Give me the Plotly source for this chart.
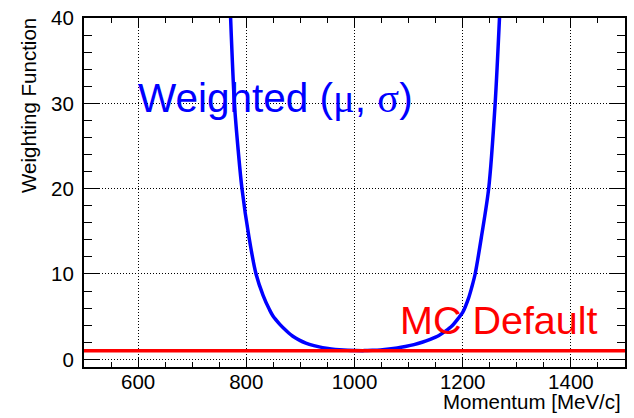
import plotly.graph_objects as go

# Weighted (mu, sigma) curve
momentum = [771, 778, 785, 792, 805, 818, 831, 843, 849, 862, 874, 886, 898, 910, 925,
            941, 957, 972, 987, 1002, 1018, 1033, 1048, 1064, 1079, 1094, 1110, 1125,
            1140, 1156, 1168, 1180, 1193, 1200, 1211, 1217, 1223, 1235, 1248, 1260, 1268]
weighted = [40, 30, 24.5, 20, 14.3, 10, 7.5, 5.8, 5.1, 4.1, 3.35, 2.7, 2.25, 1.9, 1.6,
            1.37, 1.22, 1.12, 1.06, 1.03, 1.02, 1.05, 1.1, 1.2, 1.33, 1.5, 1.72, 2.0,
            2.35, 2.8, 3.3, 3.9, 4.9, 5.5, 7.2, 8.5, 10, 14.5, 20, 30, 40]

# MC default weight
mc_momentum = [500, 1500]
mc_weight = [1, 1]

x_range = [500, 1500]
y_range = [-0.9, 40]

FONT = "Liberation Sans"

fig = go.Figure()
fig.add_trace(go.Scatter(x=momentum, y=weighted, mode="lines",
                         line=dict(color="#0000ff", width=3.5, shape="spline", smoothing=0.8),
                         showlegend=False))
fig.add_trace(go.Scatter(x=mc_momentum, y=mc_weight, mode="lines",
                         line=dict(color="#ff0000", width=3.5),
                         showlegend=False))

axis_common = dict(
    showline=True, linecolor="black", linewidth=2, mirror="allticks",
    ticks="inside", tickcolor="black", tickwidth=1,
    showgrid=True, gridcolor="black", gridwidth=1, griddash="1px,2px",
    zeroline=False,
    tickfont=dict(family=FONT, size=20.5, color="black"),
)

fig.update_xaxes(range=x_range, tick0=0, dtick=200, ticklen=10,
                 minor=dict(dtick=50, ticklen=5, ticks="inside", tickcolor="black", showgrid=False),
                 ticklabelstandoff=-5, **axis_common)
fig.update_yaxes(range=y_range, tick0=0, dtick=10, ticklen=16,
                 minor=dict(dtick=2, ticklen=8, ticks="inside", tickcolor="black", showgrid=False),
                 ticklabelstandoff=4, **axis_common)

fig.update_layout(
    width=634, height=418,
    margin=dict(l=83.6, r=6.5, t=16.3, b=51.3),
    paper_bgcolor="white", plot_bgcolor="white",
    font=dict(family=FONT, color="black"),
    annotations=[
        dict(text='Weighted (<span style="font-family:Liberation Serif">μ</span>, '
                  '<span style="font-family:Liberation Serif">σ</span>)',
             x=596, y=30.6, xref="x", yref="y", xanchor="left", yanchor="middle",
             showarrow=False, font=dict(family=FONT, size=40.5, color="#0000ff")),
        dict(text="MC Default", x=1080.5, y=4.6, xref="x", yref="y",
             xanchor="left", yanchor="middle", showarrow=False,
             font=dict(family=FONT, size=39.5, color="#ff0000")),
        dict(text="Weighting Function", textangle=-90,
             x=(28 - 83.6) / 543.9, y=1 + (16.3 - 14) / 350.4, xref="paper", yref="paper",
             xanchor="center", yanchor="top", showarrow=False,
             font=dict(family=FONT, size=20.5, color="black")),
        dict(text="Momentum [MeV/c]",
             x=1 + (625 - 627.5) / 543.9, y=-(401.5 - 366.7) / 350.4, xref="paper", yref="paper",
             xanchor="right", yanchor="middle", showarrow=False,
             font=dict(family=FONT, size=20.5, color="black")),
    ],
)

fig.write_html("out.html")
